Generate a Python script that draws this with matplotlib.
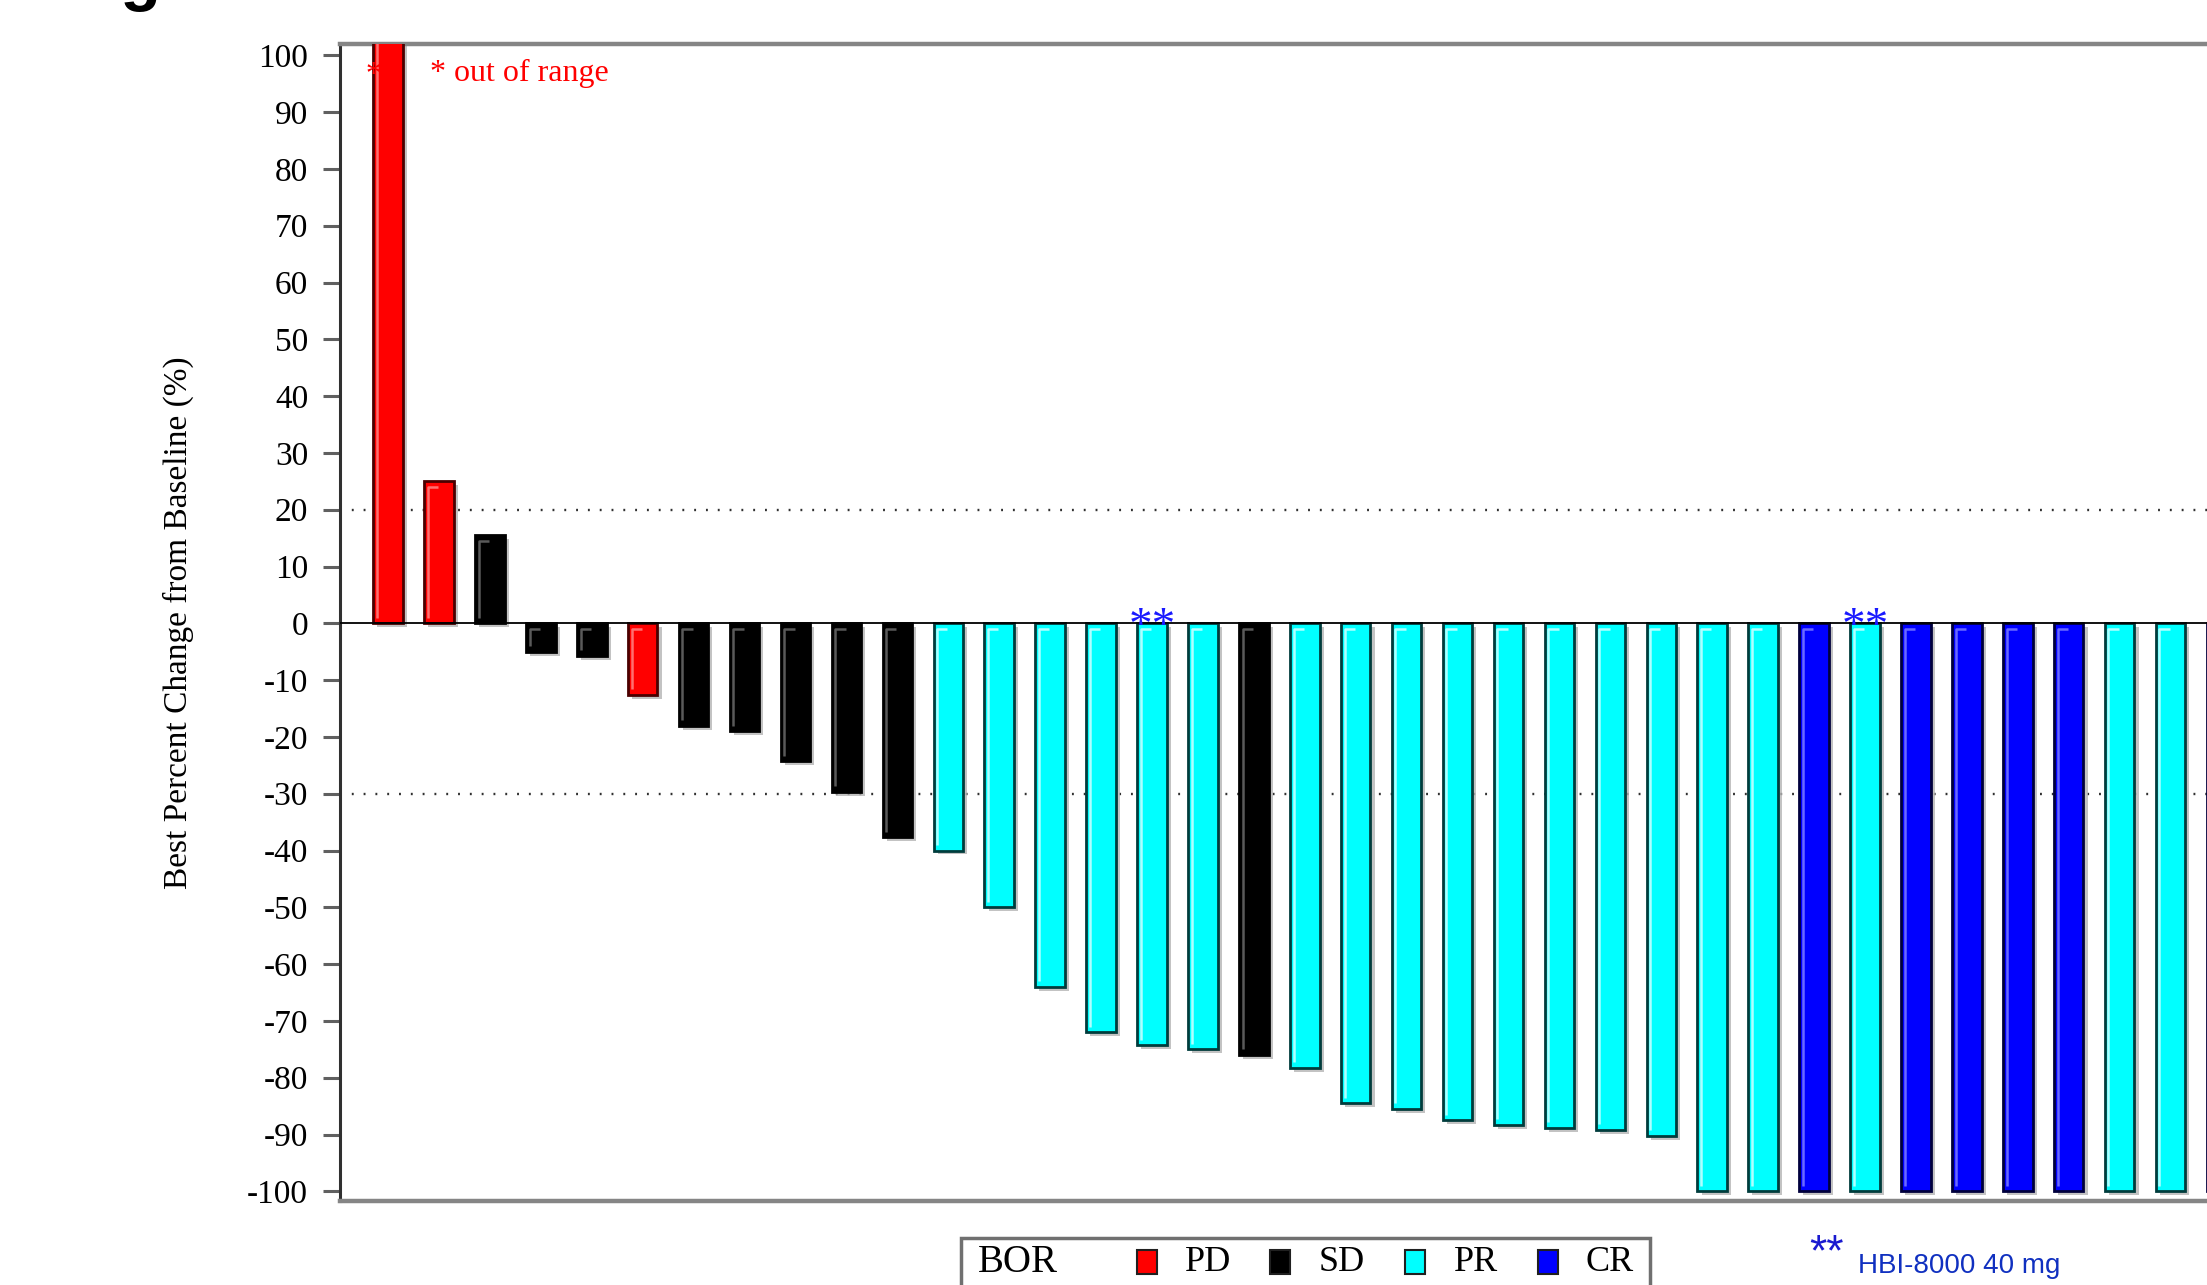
import matplotlib
matplotlib.use("Agg")
import matplotlib.pyplot as plt
from matplotlib.patches import Rectangle
import numpy as np

# Best overall response per patient, sorted by best % change from baseline
bor = ["PD", "PD", "SD", "SD", "SD", "PD", "SD", "SD", "SD", "SD", "SD",
       "PR", "PR", "PR", "PR", "PR", "PR", "SD",
       "PR", "PR", "PR", "PR", "PR", "PR", "PR", "PR", "PR", "PR",
       "CR", "PR", "CR", "CR", "CR", "CR", "PR", "PR", "CR"]
pct_change = [110, 25, 15.5, -5, -5.7, -12.6, -18, -19, -24.3, -29.7, -37.7,
              -40, -50, -64, -72, -74.3, -75, -76,
              -78.3, -84.5, -85.5, -87.5, -88.3, -88.8, -89.2, -90.2, -100, -100,
              -100, -100, -100, -100, -100, -100, -100, -100, -100]
out_of_range = [0]          # bars clipped at the top of the axis
hbi_40mg = [15, 29]         # patients on HBI-8000 40 mg

response_types = ["PD", "SD", "PR", "CR"]
fill = {"PD": "#ff0000", "SD": "#000000", "PR": "#00ffff", "CR": "#0000ff"}
edge = {"PD": "#4a0000", "SD": "#000000", "PR": "#003c3c", "CR": "#00003c"}
shine = {"PD": "#ff7070", "SD": "#5a5a5a", "PR": "#b0ffff", "CR": "#6a6aff"}

ref_lines = [20, -30]
yticks = np.arange(-100, 101, 10)

plt.rcParams["font.family"] = ["Liberation Serif", "DejaVu Serif"]

fig = plt.figure(figsize=(22.07, 12.85), dpi=100)
ax = fig.add_axes([0.1541, 0.0654, 0.8564, 0.9004])

x = np.arange(len(pct_change))
vals = np.array(pct_change, dtype=float)
width = 0.58

# soft drop shadow, then the bars themselves
ax.bar(x + 0.08, vals, width=width, bottom=-0.7, color="#b4b4b4",
       edgecolor="none", zorder=2, alpha=0.8)
ax.bar(x, vals, width=width, color=[fill[b] for b in bor],
       edgecolor=[edge[b] for b in bor], linewidth=2.0, zorder=3)

# bevel highlight in the top-left corner of each bar
for xi, v, b in zip(x, vals, bor):
    top, bot = max(v, 0), min(v, 0)
    left = xi - width / 2 + 0.07
    ax.plot([left, left, left + width * 0.35],
            [bot + 1.0, top - 1.0, top - 1.0],
            color=shine[b], lw=1.8, zorder=4, solid_capstyle="butt")

ax.axhline(0, color="black", lw=1.3, zorder=5)
for r in ref_lines:
    ax.axhline(r, color="#303030", lw=1.7, linestyle=(0, (0.8, 4.2)), zorder=1)

ax.set_xlim(-0.942, 36.17)
ax.set_ylim(-101.7, 102.0)
ax.set_xticks([])
ax.set_yticks(yticks)
ax.set_yticklabels([str(t) for t in yticks])
ax.tick_params(axis="y", direction="out", length=12, width=2.2,
               color="#606060", labelsize=24, pad=11)
ax.set_ylabel("Best Percent Change from Baseline (%)", fontsize=24, labelpad=38)

ax.spines["right"].set_visible(False)
ax.spines["left"].set_color("#303030")
ax.spines["left"].set_linewidth(2.2)
for s in ["top", "bottom"]:
    ax.spines[s].set_color("#858585")
    ax.spines[s].set_linewidth(3.2)

# out-of-range note
for i in out_of_range:
    ax.text(x[i] - 0.29, 96.5, "*", color="red", fontsize=22,
            ha="center", va="center", zorder=6)
ax.text(0.82, 96.8, "* out of range", color="red", fontsize=23,
        ha="left", va="center")

# dose markers above the zero line
for i in hbi_40mg:
    ax.text(x[i], -2.8, "**", color="#1a1aff", fontsize=34,
            ha="center", va="baseline", zorder=6)

# legend box along the bottom edge
fig.add_artist(Rectangle((0.4354, -0.02), 0.3122, 0.0566,
                         transform=fig.transFigure, facecolor="white",
                         edgecolor="#707070", linewidth=2.5))
fig.text(0.4431, 0.0175, "BOR", fontsize=28, ha="left", va="center")
sq_x = [0.5152, 0.5755, 0.6366, 0.6968]
lab_x = [0.5370, 0.5976, 0.6588, 0.7186]
for rt, sx, lx in zip(response_types, sq_x, lab_x):
    fig.add_artist(Rectangle((sx, 0.0085), 0.0092, 0.0190,
                             transform=fig.transFigure, facecolor=fill[rt],
                             edgecolor="#202020", linewidth=1.5))
    fig.text(lx, 0.0175, rt, fontsize=26, ha="left", va="center")

fig.text(0.8197, 0.0240, "**", color="#1a1ad0", fontsize=32,
         family=["Liberation Sans"], ha="left", va="center")
fig.text(0.8419, 0.0150, "HBI-8000 40 mg", color="#1030c0", fontsize=20,
         family=["Liberation Sans Narrow", "Liberation Sans"],
         ha="left", va="center")

# panel heading sits just above the top edge
fig.text(0.028, 1.0016, "Figure", fontsize=48, fontweight="bold",
         family=["Liberation Sans"], ha="left", va="baseline")

fig.savefig("out.png", dpi=100)
